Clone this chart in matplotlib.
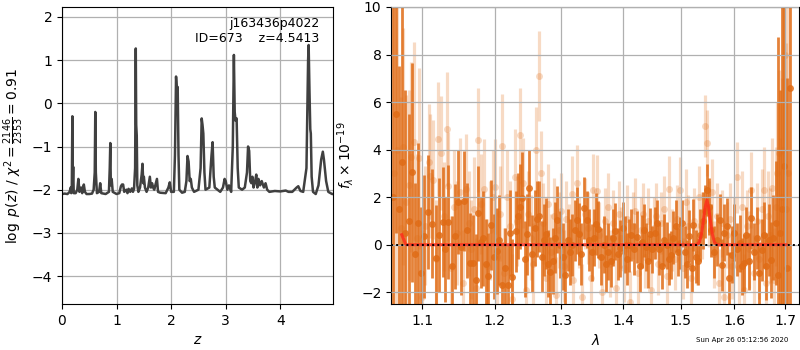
import numpy as np
import matplotlib
matplotlib.use('Agg')
import matplotlib.pyplot as plt
from matplotlib.ticker import NullLocator

# redshift grid and log p(z)
z_grid = [0.00, 0.05, 0.10, 0.14, 0.16, 0.17, 0.18, 0.19, 0.195, 0.205, 0.215,
          0.25, 0.28, 0.30, 0.32, 0.35, 0.37, 0.40, 0.42, 0.45, 0.50, 0.55,
          0.58, 0.60, 0.61, 0.62, 0.64, 0.68, 0.70, 0.72, 0.80, 0.86, 0.875,
          0.885, 0.895, 0.91, 0.93, 1.00, 1.05, 1.08, 1.10, 1.12, 1.14, 1.18,
          1.20, 1.22, 1.25, 1.28, 1.30, 1.32, 1.34, 1.352, 1.36, 1.37, 1.38,
          1.40, 1.43, 1.46, 1.475, 1.49, 1.50, 1.52, 1.55, 1.58, 1.61, 1.63,
          1.65, 1.67, 1.69, 1.72, 1.74, 1.76, 1.80, 1.90, 1.95, 1.975, 2.00,
          2.05, 2.07, 2.09, 2.105, 2.12, 2.135, 2.15, 2.20, 2.25, 2.28, 2.30,
          2.32, 2.34, 2.36, 2.38, 2.42, 2.50, 2.54, 2.56, 2.575, 2.59, 2.61,
          2.63, 2.70, 2.74, 2.76, 2.78, 2.80, 2.85, 2.90, 2.95, 2.98, 3.00,
          3.03, 3.06, 3.10, 3.13, 3.15, 3.165, 3.18, 3.20, 3.22, 3.24, 3.30,
          3.35, 3.39, 3.41, 3.43, 3.45, 3.47, 3.49, 3.51, 3.54, 3.56, 3.58,
          3.60, 3.63, 3.66, 3.70, 3.73, 3.76, 3.80, 3.90, 4.00, 4.10, 4.15,
          4.22, 4.30, 4.33, 4.37, 4.42, 4.48, 4.51, 4.52, 4.535, 4.55, 4.56,
          4.575, 4.60, 4.65, 4.70, 4.75, 4.78, 4.80, 4.84, 4.88, 4.95, 4.97]
log_pz = [-2.10, -2.09, -2.10, -2.05, -1.95, -2.08, -1.90, -0.30, -1.90, -1.47, -2.08,
          -2.08, -2.00, -1.75, -2.05, -1.95, -2.08, -1.88, -2.05, -2.10, -2.10, -2.09,
          -2.00, -1.60, -0.20, -1.60, -2.08, -2.05, -1.85, -2.08, -2.10, -2.05, -1.50,
          -0.92, -1.90, -1.75, -2.05, -2.10, -2.08, -1.92, -1.88, -1.88, -2.05, -2.00,
          -2.08, -1.98, -2.05, -1.97, -2.05, -1.98, -1.50, 1.27, -0.50, -0.75, -1.90,
          -2.05, -1.95, -1.65, -1.40, -1.85, -1.70, -1.95, -2.05, -1.95, -1.70, -1.95,
          -1.85, -1.95, -2.00, -1.85, -1.75, -2.05, -2.07, -2.08, -1.95, -1.83, -2.05,
          -2.05, -1.20, 0.62, 0.30, 0.38, -1.20, -2.00, -2.07, -2.05, -1.80, -1.22,
          -1.35, -1.80, -1.75, -1.95, -2.05, -2.00, -1.50, -0.35, -0.50, -0.70, -1.60,
          -2.00, -1.95, -1.20, -0.90, -1.70, -1.95, -2.00, -2.05, -1.95, -1.75, -1.80,
          -2.00, -1.90, -2.05, -1.00, 1.12, -0.20, -0.40, -0.35, -1.50, -1.95, -2.00,
          -1.95, -1.60, -1.00, -1.10, -1.80, -1.85, -1.70, -1.95, -1.80, -1.65, -1.95,
          -1.75, -1.90, -1.80, -1.95, -1.85, -2.00, -2.05, -2.03, -2.04, -2.02, -2.05,
          -2.05, -1.95, -1.92, -2.03, -2.05, -1.50, 1.00, 1.35, 0.30, -0.60, -0.70,
          -1.70, -2.05, -2.10, -1.90, -1.30, -1.12, -1.30, -1.80, -2.05, -2.10, -2.10]

# binned spectrum (microns, 1e-19 cgs)
dark_wave = [1.062, 1.066, 1.070, 1.074, 1.078, 1.083, 1.087, 1.091, 1.095, 1.099,
             1.103, 1.108, 1.113, 1.118, 1.123, 1.128, 1.131, 1.135, 1.140, 1.144,
             1.148, 1.153, 1.157, 1.161, 1.165, 1.169, 1.173, 1.176, 1.180, 1.184,
             1.187, 1.190, 1.195, 1.199, 1.203, 1.206, 1.210, 1.215, 1.220, 1.223,
             1.226, 1.231, 1.234, 1.237, 1.240, 1.244, 1.248, 1.251, 1.255, 1.259,
             1.263, 1.266, 1.270, 1.273, 1.277, 1.280, 1.283, 1.287, 1.290, 1.294,
             1.298, 1.302, 1.306, 1.310, 1.314, 1.317, 1.321, 1.325, 1.328, 1.331,
             1.335, 1.340, 1.344, 1.349, 1.352, 1.355, 1.359, 1.363, 1.369, 1.372,
             1.375, 1.379, 1.383, 1.387, 1.391, 1.395, 1.399, 1.403, 1.407, 1.410,
             1.414, 1.418, 1.424, 1.428, 1.432, 1.435, 1.439, 1.443, 1.446, 1.450,
             1.454, 1.458, 1.462, 1.467, 1.471, 1.475, 1.479, 1.483, 1.487, 1.491,
             1.495, 1.499, 1.503, 1.507, 1.511, 1.516, 1.520, 1.523, 1.527, 1.532,
             1.536, 1.540, 1.544, 1.548, 1.552, 1.556, 1.561, 1.566, 1.572, 1.576,
             1.580, 1.586, 1.590, 1.595, 1.600, 1.605, 1.610, 1.614, 1.618, 1.623,
             1.629, 1.633, 1.638, 1.643, 1.648, 1.653, 1.658, 1.662, 1.667, 1.671,
             1.676, 1.682, 1.686, 1.690, 1.693, 1.698, 1.705, 1.710]
dark_flux = [2.0, 5.5, 1.5, 3.5, 0.5, 1.0, 3.05, -0.4, 0.9, -1.2,
             0.35, 1.37, 0.88, -0.55, 0.42, 0.96, -0.2, 0.96, -0.9, 0.35,
             1.79, -0.1, 1.85, 0.6, -0.76, -0.76, -1.47, 1.33, 0.1, 0.27,
             -0.8, -1.3, 0.82, -0.5, -0.27, 0.2, -1.7, -1.0, -1.68, 0.5,
             -1.36, 0.57, 1.2, 1.6, 1.98, -0.6, 0.43, 2.38, -0.37, 0.7,
             1.08, 1.19, -0.5, 0.2, 0.47, -0.8, -1.16, -0.69, 0.3, 1.05,
             0.0, -0.5, -1.29, 0.2, -0.3, 0.0, 0.6, 1.02, 0.45, -0.4,
             1.55, 1.05, 0.2, -0.32, 0.3, 0.88, 0.65, -0.5, 0.0, -0.8,
             -0.29, -0.69, 0.3, 0.56, -0.4, -0.14, 0.7, 0.0, -0.6, -0.03,
             0.4, -0.17, 0.33, -0.9, 0.13, 0.6, -0.1, -0.7, 0.43, -0.2,
             0.5, 0.9, -0.16, -0.88, 0.2, -0.03, -0.6, -0.43, 0.3, 0.78,
             -0.3, 0.07, 0.9, -0.31, -0.8, 0.37, -1.0, 0.84, -0.5, -0.7,
             0.4, 1.0, 1.4, 2.31, 1.6, 0.6, -0.3, 0.2, 1.05, -0.84,
             0.5, 0.77, -1.4, -0.42, 0.5, -0.2, 0.07, -0.9, -0.77, 0.4,
             -0.7, 1.12, -0.3, 0.28, -1.2, -0.21, 0.4, -0.91, 0.2, -0.63,
             0.3, 0.91, -1.26, 0.5, 1.5, 3.3, -0.98, 6.6]
dark_err = [9.0, 5.0, 6.0, 6.5, 6.0, 4.5, 4.6, 3.0, 3.4, 2.8,
            2.6, 2.4, 2.3, 2.2, 2.4, 2.3, 2.2, 2.4, 2.1, 2.2,
            2.2, 2.0, 2.1, 2.0, 2.1, 2.0, 1.9, 2.0, 1.9, 2.0,
            1.9, 1.8, 1.9, 1.8, 1.8, 1.9, 1.8, 1.7, 1.7, 1.8,
            1.6, 1.7, 1.8, 1.8, 1.9, 1.6, 1.7, 1.6, 1.6, 1.6,
            1.6, 1.5, 1.5, 1.5, 1.5, 1.4, 1.5, 1.4, 1.5, 1.4,
            1.4, 1.4, 1.4, 1.3, 1.4, 1.3, 1.3, 1.4, 1.3, 1.3,
            1.3, 1.2, 1.3, 1.2, 1.2, 1.3, 1.2, 1.2, 1.2, 1.2,
            1.2, 1.1, 1.2, 1.2, 1.1, 1.2, 1.1, 1.2, 1.1, 1.1,
            1.1, 1.1, 1.1, 1.1, 1.1, 1.1, 1.0, 1.1, 1.1, 1.0,
            1.1, 1.0, 1.1, 1.0, 1.1, 1.0, 1.1, 1.0, 1.1, 1.1,
            1.0, 1.1, 1.0, 1.1, 1.0, 1.1, 1.0, 1.1, 1.1, 1.0,
            1.1, 1.2, 1.1, 1.1, 1.2, 1.1, 1.1, 1.1, 1.1, 1.1,
            1.2, 1.2, 1.1, 1.2, 1.2, 1.1, 1.2, 1.2, 1.2, 1.2,
            1.2, 1.3, 1.2, 1.3, 1.3, 1.3, 1.4, 1.4, 1.5, 1.6,
            1.8, 2.6, 10.0, 6.0, 9.0, 9.0, 8.0, 10.0]

# second (unbinned) spectrum, drawn faint
light_wave = [1.064, 1.068, 1.072, 1.075, 1.079, 1.083, 1.086, 1.090, 1.093, 1.096,
              1.100, 1.104, 1.109, 1.111, 1.115, 1.119, 1.121, 1.125, 1.129, 1.133,
              1.135, 1.139, 1.143, 1.147, 1.151, 1.155, 1.159, 1.163, 1.167, 1.171,
              1.174, 1.177, 1.181, 1.185, 1.189, 1.193, 1.197, 1.200, 1.204, 1.208,
              1.210, 1.214, 1.218, 1.222, 1.226, 1.229, 1.233, 1.237, 1.242, 1.246,
              1.249, 1.253, 1.257, 1.261, 1.266, 1.268, 1.272, 1.276, 1.279, 1.284,
              1.288, 1.292, 1.296, 1.300, 1.304, 1.308, 1.312, 1.316, 1.319, 1.324,
              1.328, 1.333, 1.338, 1.342, 1.347, 1.351, 1.356, 1.360, 1.365, 1.370,
              1.374, 1.378, 1.383, 1.388, 1.393, 1.397, 1.401, 1.406, 1.411, 1.416,
              1.420, 1.425, 1.430, 1.434, 1.438, 1.442, 1.447, 1.452, 1.456, 1.460,
              1.465, 1.470, 1.475, 1.480, 1.485, 1.489, 1.494, 1.499, 1.504, 1.509,
              1.514, 1.519, 1.524, 1.529, 1.534, 1.539, 1.544, 1.548, 1.552, 1.557,
              1.562, 1.567, 1.571, 1.576, 1.581, 1.586, 1.591, 1.596, 1.600, 1.604,
              1.609, 1.614, 1.619, 1.624, 1.629, 1.633, 1.638, 1.643, 1.648, 1.653,
              1.658, 1.662, 1.666, 1.670, 1.674, 1.678, 1.681, 1.684, 1.687, 1.690,
              1.693, 1.696, 1.699, 1.702, 1.706]
light_flux = [3.0, 4.0, 0.7, 4.13, 1.8, 2.5, 3.68, 4.34, 0.3, 3.64,
              -2.2, 0.8, 3.5, 2.9, 2.73, -0.6, 4.43, 3.87, 1.2, 4.87,
              2.45, -1.0, 1.6, 0.5, 2.2, -1.6, 2.35, 0.9, -0.2, 1.5,
              -1.8, 4.4, 1.7, 2.35, -0.9, 0.6, 2.0, 2.43, -0.5, 1.3,
              4.15, -1.2, 2.0, 0.8, -2.3, 2.85, 1.0, 4.6, 2.61, -1.9,
              1.3, 0.3, -0.8, 3.99, 7.09, 3.0, 0.9, -1.4, 1.7, -0.3,
              1.2, -2.1, 0.6, 1.4, -0.9, 1.1, 0.2, 2.14, -1.5, 2.61,
              0.5, -2.2, 1.3, 0.7, -1.4, 2.3, 2.28, 0.4, -2.0, 1.0,
              1.6, -0.8, 0.9, -1.8, 1.3, 0.3, -1.0, 1.1, -2.4, 0.8,
              1.4, -1.2, 0.6, 1.3, -0.5, 1.0, -1.9, 0.7, 1.2, -0.8,
              0.9, 1.5, -1.3, 2.35, 0.2, -0.6, 1.1, 2.3, -1.0, 1.8,
              0.8, -1.4, 1.0, -0.4, 2.0, 0.8, 5.0, 4.27, 1.3, 2.2,
              -0.4, 1.2, -1.6, 0.9, -2.2, 0.4, 1.1, -0.9, 0.5, 2.84,
              -1.0, 1.6, -1.9, 0.8, -0.2, 2.31, -1.2, 1.0, -0.6, 1.5,
              2.29, -1.6, 1.2, 0.4, 2.38, -1.5, 1.6, 3.0, 3.85, 0.5,
              2.0, 4.0, 7.97, 1.5, 3.0]
light_err = [7.0, 6.5, 5.5, 5.0, 4.5, 4.0, 4.0, 4.2, 3.5, 3.8,
             2.8, 2.5, 2.4, 2.6, 2.5, 2.5, 2.4, 2.4, 2.3, 2.4,
             2.3, 2.2, 2.4, 2.2, 2.3, 2.2, 2.3, 2.2, 2.1, 2.2,
             2.1, 2.2, 2.1, 2.1, 2.0, 2.1, 2.0, 2.0, 2.0, 2.0,
             2.2, 1.9, 2.0, 1.9, 1.9, 2.0, 1.9, 2.0, 1.9, 1.8,
             1.8, 1.8, 1.7, 1.8, 1.9, 1.8, 1.7, 1.7, 1.7, 1.6,
             1.6, 1.6, 1.6, 1.6, 1.5, 1.6, 1.5, 1.6, 1.5, 1.6,
             1.5, 1.4, 1.5, 1.5, 1.4, 1.5, 1.5, 1.4, 1.4, 1.4,
             1.4, 1.4, 1.4, 1.4, 1.4, 1.3, 1.4, 1.4, 1.3, 1.4,
             1.4, 1.3, 1.4, 1.3, 1.3, 1.4, 1.3, 1.3, 1.4, 1.3,
             1.3, 1.4, 1.3, 1.4, 1.3, 1.3, 1.4, 1.4, 1.3, 1.4,
             1.3, 1.3, 1.4, 1.3, 1.3, 1.4, 1.3, 1.4, 1.4, 1.4,
             1.4, 1.4, 1.4, 1.4, 1.4, 1.4, 1.5, 1.4, 1.5, 1.5,
             1.5, 1.5, 1.5, 1.5, 1.6, 1.6, 1.6, 1.6, 1.7, 1.7,
             1.8, 1.8, 1.9, 2.0, 2.1, 2.2, 2.5, 3.0, 3.5, 4.0,
             5.0, 6.5, 5.0, 7.0, 8.0]

# best-fit line model
model_wave = [1.0735, 1.0788, 1.529, 1.534, 1.538, 1.542, 1.545, 1.548,
              1.551, 1.554, 1.558, 1.562, 1.567, 1.702]
model_flux = [0.42, 0.0, 0.0, 0.1, 0.45, 1.1, 1.6, 1.88,
              1.6, 1.1, 0.45, 0.1, 0.0, 0.0]

lam_ticks = [1.1, 1.2, 1.3, 1.4, 1.5, 1.6, 1.7]

orange = '#e06c16'

fig = plt.figure(figsize=(8, 3.5), dpi=100)

# p(z)
ax1 = fig.add_axes([0.0775, 0.131, 0.339, 0.849])
ax1.plot(z_grid, log_pz, color='0.25', lw=1.8)
ax1.set_xlim(0, 4.97)
ax1.set_ylim(-4.65, 2.23)
ax1.set_xticks([0, 1, 2, 3, 4])
ax1.set_yticks([-4, -3, -2, -1, 0, 1, 2])
ax1.grid(True, color='#b0b0b0', lw=0.9)
ax1.set_xlabel('$z$')
ax1.set_ylabel(r'$\log\ p(z)$ / $\chi^2=\frac{2146}{2353}=0.91$')
ax1.text(0.948, 0.965, 'j163436p4022\nID=673    z=4.5413', transform=ax1.transAxes,
         ha='right', va='top', multialignment='right', fontsize=9)

# 1D spectrum
ax2 = fig.add_axes([0.489, 0.131, 0.5103, 0.849])
ax2.set_axisbelow(False)
ax2.errorbar(light_wave, light_flux, yerr=light_err, fmt='o', color=orange,
             alpha=0.25, ms=5, mec='none', elinewidth=2.3, capsize=0, zorder=1)
ax2.errorbar(dark_wave, dark_flux, yerr=dark_err, fmt='o', color=orange,
             alpha=0.85, ms=5, mec='none', elinewidth=2.0, capsize=0, zorder=2)
ax2.plot(model_wave, model_flux, color='#ff2a1a', alpha=0.8, lw=2.2, zorder=3)
ax2.axhline(0, color='k', ls=':', lw=1.4, zorder=4)
ax2.set_xscale('log')
ax2.set_xlim(1.060, 1.7297)
ax2.set_ylim(-2.5, 10)
ax2.set_xticks(lam_ticks)
ax2.set_xticklabels(['%.1f' % t for t in lam_ticks])
ax2.xaxis.set_minor_locator(NullLocator())
ax2.set_yticks([-2, 0, 2, 4, 6, 8, 10])
ax2.grid(True, color='#b0b0b0', lw=0.9)
ax2.set_xlabel(r'$\lambda$')
ax2.set_ylabel(r'$f_\lambda\times10^{-19}$')

fig.text(0.985, 0.028, 'Sun Apr 26 05:12:56 2020', ha='right', va='center', fontsize=5)

fig.savefig('out.png', dpi=100)
